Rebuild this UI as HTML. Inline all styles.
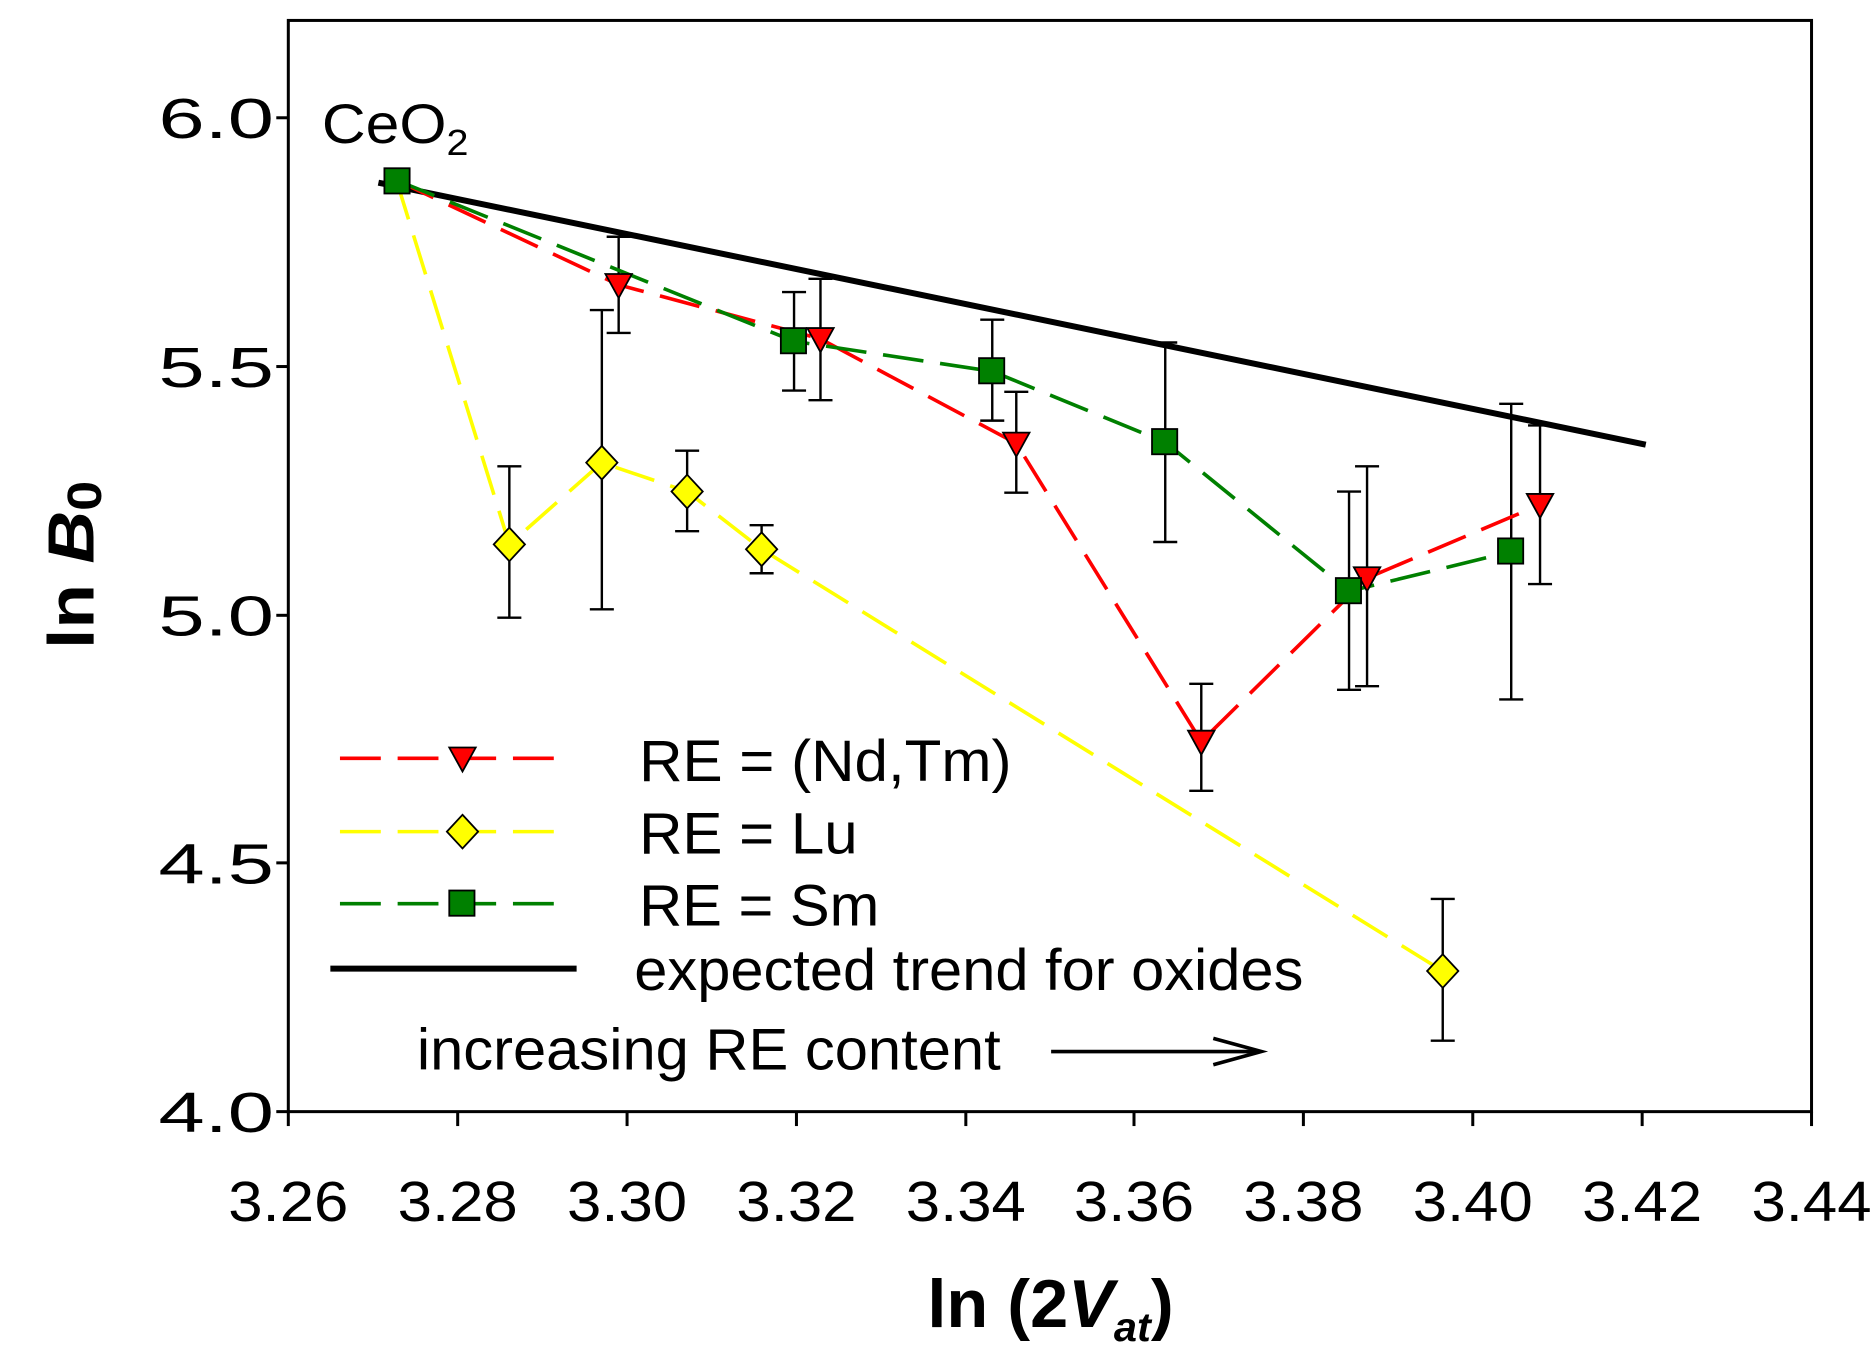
<!DOCTYPE html>
<html><head><meta charset="utf-8"><style>html,body{margin:0;padding:0;background:#fff}svg{display:block}</style></head><body>
<svg width="1874" height="1358" viewBox="0 0 1560 1130" preserveAspectRatio="none" font-family="Liberation Sans, Arial, sans-serif">
<rect x="0" y="0" width="1560" height="1130" fill="#fff"/>
<rect x="240" y="17" width="1268" height="908" fill="none" stroke="#000" stroke-width="2.5"/>
<g stroke="#000" stroke-width="2.5">
<line x1="230" y1="98" x2="240" y2="98"/><line x1="230" y1="305" x2="240" y2="305"/><line x1="230" y1="512" x2="240" y2="512"/><line x1="230" y1="718" x2="240" y2="718"/><line x1="230" y1="925" x2="240" y2="925"/>
<line x1="240" y1="925" x2="240" y2="937"/><line x1="381" y1="925" x2="381" y2="937"/><line x1="522" y1="925" x2="522" y2="937"/><line x1="663" y1="925" x2="663" y2="937"/><line x1="804" y1="925" x2="804" y2="937"/><line x1="944" y1="925" x2="944" y2="937"/><line x1="1085" y1="925" x2="1085" y2="937"/><line x1="1226" y1="925" x2="1226" y2="937"/><line x1="1367" y1="925" x2="1367" y2="937"/><line x1="1508" y1="925" x2="1508" y2="937"/>
</g>
<g font-size="47" fill="#000">
<text x="132" y="115" textLength="96" lengthAdjust="spacingAndGlyphs">6.0</text><text x="132" y="322" textLength="96" lengthAdjust="spacingAndGlyphs">5.5</text><text x="132" y="529" textLength="96" lengthAdjust="spacingAndGlyphs">5.0</text><text x="132" y="735" textLength="96" lengthAdjust="spacingAndGlyphs">4.5</text><text x="132" y="942" textLength="96" lengthAdjust="spacingAndGlyphs">4.0</text>
</g>
<g font-size="47" fill="#000">
<text x="190" y="1016" textLength="100" lengthAdjust="spacingAndGlyphs">3.26</text><text x="331" y="1016" textLength="100" lengthAdjust="spacingAndGlyphs">3.28</text><text x="472" y="1016" textLength="100" lengthAdjust="spacingAndGlyphs">3.30</text><text x="613" y="1016" textLength="100" lengthAdjust="spacingAndGlyphs">3.32</text><text x="754" y="1016" textLength="100" lengthAdjust="spacingAndGlyphs">3.34</text><text x="894" y="1016" textLength="100" lengthAdjust="spacingAndGlyphs">3.36</text><text x="1035" y="1016" textLength="100" lengthAdjust="spacingAndGlyphs">3.38</text><text x="1176" y="1016" textLength="100" lengthAdjust="spacingAndGlyphs">3.40</text><text x="1317" y="1016" textLength="100" lengthAdjust="spacingAndGlyphs">3.42</text><text x="1458" y="1016" textLength="100" lengthAdjust="spacingAndGlyphs">3.44</text>
</g>
<text x="772" y="1104" font-size="56" font-weight="bold" textLength="205" lengthAdjust="spacingAndGlyphs">ln (2<tspan font-style="italic">V</tspan><tspan font-style="italic" font-size="34" dy="12">at</tspan><tspan dy="-12">)</tspan></text>
<text transform="translate(78,470) rotate(-90)" font-size="54" font-weight="bold" text-anchor="middle" textLength="140" lengthAdjust="spacingAndGlyphs">ln <tspan font-style="italic">B</tspan><tspan font-size="40" dy="6">0</tspan></text>
<text x="268" y="119" font-size="46" textLength="122" lengthAdjust="spacingAndGlyphs">CeO<tspan font-size="30" dy="10">2</tspan></text>
<line x1="315" y1="152" x2="1370" y2="370" stroke="#000" stroke-width="5"/>
<g stroke="#000" stroke-width="2">
<path d="M515 197V277M505 197h20M505 277h20 M683 232V333M673 232h20M673 333h20 M846 326V410M836 326h20M836 410h20 M1000 569V658M990 569h20M990 658h20 M1138 388V571M1128 388h20M1128 571h20 M1282 354V486M1272 354h20M1272 486h20"/>
<path d="M424 388V514M414 388h20M414 514h20 M501 258V507M491 258h20M491 507h20 M572 375V442M562 375h20M562 442h20 M634 437V477M624 437h20M624 477h20 M1201 748V866M1191 748h20M1191 866h20"/>
<path d="M661 243V325M651 243h20M651 325h20 M826 266V350M816 266h20M816 350h20 M970 285V451M960 285h20M960 451h20 M1123 409V574M1113 409h20M1113 574h20 M1258 336V582M1248 336h20M1248 582h20"/>
</g>
<polyline points="330,150 424,453 501,385 572,409 634,457 1201,808" fill="none" stroke="#ffff00" stroke-width="3" stroke-dasharray="34,14"/>
<polyline points="330,150 515,237 683,282 846,369 1000,617 1138,481 1282,420" fill="none" stroke="#ff0000" stroke-width="3" stroke-dasharray="34,14"/>
<polyline points="330,150 661,284 826,309 970,368 1123,492 1258,459" fill="none" stroke="#008000" stroke-width="3" stroke-dasharray="34,14"/>
<g fill="#ff0000" stroke="#000" stroke-width="1.5">
<path d="M504 228h22l-11 20z"/><path d="M672 273h22l-11 20z"/><path d="M835 360h22l-11 20z"/><path d="M989 608h22l-11 20z"/><path d="M1127 472h22l-11 20z"/><path d="M1271 411h22l-11 20z"/>
</g>
<g fill="#ffff00" stroke="#000" stroke-width="1.5">
<path d="M424 439l13 14-13 14-13-14z"/><path d="M501 371l13 14-13 14-13-14z"/><path d="M572 395l13 14-13 14-13-14z"/><path d="M634 443l13 14-13 14-13-14z"/><path d="M1201 794l13 14-13 14-13-14z"/>
</g>
<g fill="#008000" stroke="#000" stroke-width="1.5">
<rect x="320" y="140" width="21" height="21"/><rect x="650" y="273" width="21" height="21"/><rect x="815" y="298" width="21" height="21"/><rect x="959" y="357" width="21" height="21"/><rect x="1112" y="481" width="21" height="21"/><rect x="1247" y="448" width="21" height="21"/>
</g>
<line x1="283" y1="631" x2="468" y2="631" stroke="#ff0000" stroke-width="3" stroke-dasharray="34,14"/>
<path d="M374 622h22l-11 20z" fill="#ff0000" stroke="#000" stroke-width="1.5"/>
<line x1="283" y1="692" x2="468" y2="692" stroke="#ffff00" stroke-width="3" stroke-dasharray="34,14"/>
<path d="M385 678l13 14-13 14-13-14z" fill="#ffff00" stroke="#000" stroke-width="1.5"/>
<line x1="283" y1="752" x2="468" y2="752" stroke="#008000" stroke-width="3" stroke-dasharray="34,14"/>
<rect x="374" y="741" width="21" height="21" fill="#008000" stroke="#000" stroke-width="1.5"/>
<line x1="275" y1="806" x2="480" y2="806" stroke="#000" stroke-width="5"/>
<g font-size="49" fill="#000">
<text x="532" y="650" textLength="310" lengthAdjust="spacingAndGlyphs">RE = (Nd,Tm)</text>
<text x="532" y="710" textLength="182" lengthAdjust="spacingAndGlyphs">RE = Lu</text>
<text x="532" y="770" textLength="200" lengthAdjust="spacingAndGlyphs">RE = Sm</text>
<text x="528" y="824" textLength="557" lengthAdjust="spacingAndGlyphs">expected trend for oxides</text>
<text x="347" y="890" textLength="486" lengthAdjust="spacingAndGlyphs">increasing RE content</text>
</g>
<line x1="875" y1="875" x2="1045" y2="875" stroke="#000" stroke-width="3"/>
<path d="M1010 864l40 11-40 11" fill="none" stroke="#000" stroke-width="3"/>
</svg>
</body></html>
